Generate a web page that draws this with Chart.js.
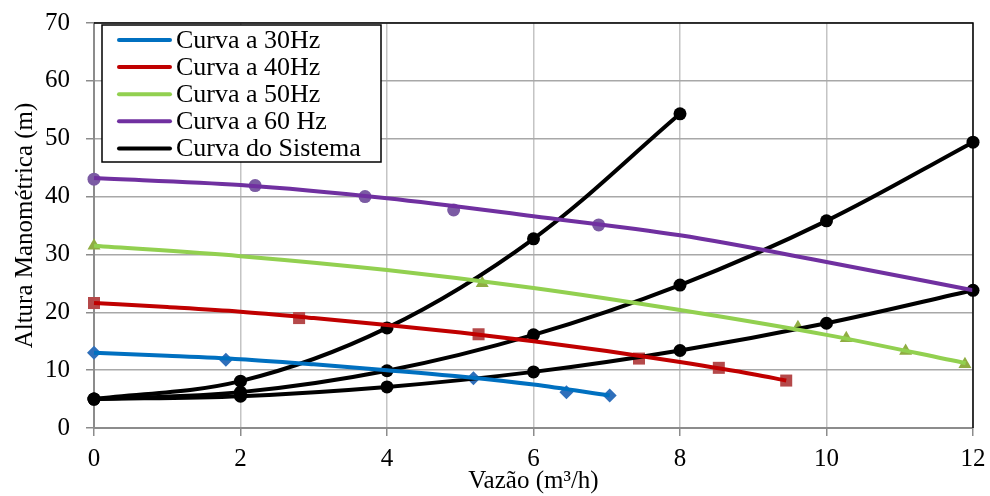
<!DOCTYPE html>
<html>
<head>
<meta charset="utf-8">
<script src="https://cdn.jsdelivr.net/npm/chart.js@4.4.1/dist/chart.umd.min.js"></script>
<style>
    html, body { margin: 0; padding: 0; background: #ffffff; }
    #wrap { width: 990px; height: 496px; position: relative; }
</style>
</head>
<body>
<div id="wrap"><canvas id="pumpChart"></canvas></div>
<script>
// system curves (black, measured points)
const sysX = [0, 2, 4, 6, 8, 10, 12];
const sysA = [5, 8.1, 17.3, 32.7, 54.3];
const sysB = [5, 6.2, 9.9, 16.1, 24.7, 35.8, 49.4];
const sysC = [5, 5.5, 7.1, 9.7, 13.4, 18.1, 23.8];

// pump test points (markers)
const hz30X = [0, 1.8, 5.18, 6.45, 7.04];
const hz30Y = [13.0, 11.8, 8.6, 6.2, 5.6];
const hz40X = [0, 2.8, 5.25, 7.44, 8.53, 9.45];
const hz40Y = [21.6, 19.0, 16.2, 12.0, 10.4, 8.2];
const hz50X = [0, 5.3, 9.61, 10.27, 11.08, 11.89];
const hz50Y = [31.5, 25.0, 17.4, 15.5, 13.3, 11.0];
const hz60X = [0, 2.2, 3.7, 4.91, 6.89];
const hz60Y = [43.0, 41.9, 40.0, 37.7, 35.1];

// trend lines
const fit30X = [0, 1, 2, 3, 4, 5, 6, 7.04];
const fit30Y = [13.0, 12.5, 11.9, 11.0, 10.0, 8.9, 7.5, 5.6];
const fit40X = [0, 1, 2, 3, 4, 5, 6, 7, 8, 9, 9.45];
const fit40Y = [21.6, 20.9, 20.1, 19.0, 17.8, 16.5, 15.0, 13.3, 11.4, 9.3, 8.2];
const fit50X = [0, 2, 4, 6, 8, 10, 11.9];
const fit50Y = [31.5, 29.7, 27.3, 24.2, 20.4, 16.1, 11.2];
const fit60X = [0, 2, 4, 6, 8, 10, 12];
const fit60Y = [43.2, 42.0, 39.7, 36.6, 33.3, 28.7, 23.8];

const xTicks = [0, 2, 4, 6, 8, 10, 12];
const yTicks = [0, 10, 20, 30, 40, 50, 60, 70];

const SERIF = "'Liberation Serif', 'Times New Roman', serif";

function pts(xs, ys) {
    return ys.map((y, i) => ({ x: xs[i], y: y }));
}

function trend(label, xs, ys, color) {
    return {
        label: label, data: pts(xs, ys), borderColor: color, backgroundColor: color,
        borderWidth: 4, pointRadius: 0, cubicInterpolationMode: 'monotone',
        order: 0, clip: false, inLegend: true
    };
}

function markers(xs, ys, color, style, radius) {
    return {
        label: '', data: pts(xs, ys), showLine: false, pointStyle: style,
        pointRadius: radius, pointBackgroundColor: color, pointBorderColor: color,
        pointBorderWidth: 0, order: 2, clip: false
    };
}

function system(label, ys, legend) {
    return {
        label: label, data: pts(sysX, ys), borderColor: '#000000', backgroundColor: '#000000',
        borderWidth: 4, pointRadius: 6.5, pointBackgroundColor: '#000000',
        pointBorderWidth: 0, tension: 0.35,
        order: 1, clip: false, inLegend: legend
    };
}

const legendBox = {
    id: 'legendBox',
    afterDraw(chart) {
        const ctx = chart.ctx;
        const area = chart.chartArea;
        ctx.save();
        // black top/right frame
        ctx.strokeStyle = '#000000';
        ctx.lineWidth = 1.5;
        ctx.beginPath();
        ctx.moveTo(area.left, area.top);
        ctx.lineTo(area.right, area.top);
        ctx.lineTo(area.right, area.bottom);
        ctx.stroke();

        const items = chart.data.datasets.filter(d => d.inLegend);
        const bx = 102, by = 25, bw = 279, bh = 137;
        ctx.fillStyle = '#ffffff';
        ctx.fillRect(bx, by, bw, bh);
        ctx.strokeRect(bx, by, bw, bh);
        ctx.font = '26px ' + SERIF;
        ctx.textBaseline = 'middle';
        ctx.lineCap = 'round';
        items.forEach((d, i) => {
            const y = 40 + i * 27.1;
            ctx.strokeStyle = d.borderColor;
            ctx.lineWidth = 4;
            ctx.beginPath();
            ctx.moveTo(119, y);
            ctx.lineTo(170, y);
            ctx.stroke();
            ctx.fillStyle = '#000000';
            ctx.fillText(d.label, 176, y + 1);
        });
        ctx.restore();
    }
};

const ctx = document.getElementById('pumpChart').getContext('2d');
new Chart(ctx, {
    type: 'line',
    data: {
        datasets: [
            trend('Curva a 30Hz', fit30X, fit30Y, '#0070c0'),
            trend('Curva a 40Hz', fit40X, fit40Y, '#c00000'),
            trend('Curva a 50Hz', fit50X, fit50Y, '#92d050'),
            trend('Curva a 60 Hz', fit60X, fit60Y, '#7030a0'),
            system('Curva do Sistema', sysA, true),
            system('Curva do Sistema', sysB, false),
            system('Curva do Sistema', sysC, false),
            markers(hz30X, hz30Y, '#2f6fba', 'rectRot', 7),
            markers(hz40X, hz40Y, '#b5494a', 'rect', 8.5),
            markers(hz50X, hz50Y, '#8fad42', 'triangle', 7.5),
            markers(hz60X, hz60Y, '#7b5ba3', 'circle', 6.5)
        ]
    },
    options: {
        responsive: true,
        maintainAspectRatio: false,
        animation: false,
        layout: { padding: { top: 23, right: 17, left: 0, bottom: 0 } },
        plugins: { legend: { display: false }, tooltip: { enabled: false } },
        scales: {
            x: {
                type: 'linear', min: 0, max: 12,
                afterBuildTicks: (axis) => { axis.ticks = xTicks.map(v => ({ value: v })); },
                afterFit: (axis) => {
                    axis.height = 68;
                    axis.paddingLeft = 0;
                    axis.paddingRight = 0;
                },
                ticks: { color: '#000000', font: { family: SERIF, size: 25 }, padding: 8 },
                grid: { color: '#c4c4c4', lineWidth: 1.5, tickLength: 8, tickColor: '#8c8c8c' },
                border: { color: '#8c8c8c', width: 2 },
                title: {
                    display: true, text: 'Vazão (m³/h)', color: '#000000',
                    font: { family: SERIF, size: 25 }, padding: { top: 0, bottom: 0 }
                }
            },
            y: {
                type: 'linear', min: 0, max: 70,
                afterBuildTicks: (axis) => { axis.ticks = yTicks.map(v => ({ value: v })); },
                afterFit: (axis) => {
                    axis.width = 94;
                    axis.paddingTop = 0;
                    axis.paddingBottom = 0;
                },
                ticks: { color: '#000000', font: { family: SERIF, size: 25 }, padding: 16 },
                grid: { color: '#a8a8a8', lineWidth: 1.5, tickLength: 8, tickColor: '#8c8c8c' },
                border: { color: '#8c8c8c', width: 2 },
                title: {
                    display: true, text: 'Altura Manométrica (m)', color: '#000000',
                    font: { family: SERIF, size: 25 }, padding: { top: 10, bottom: 0 }
                }
            }
        }
    },
    plugins: [legendBox]
});
</script>
</body>
</html>
